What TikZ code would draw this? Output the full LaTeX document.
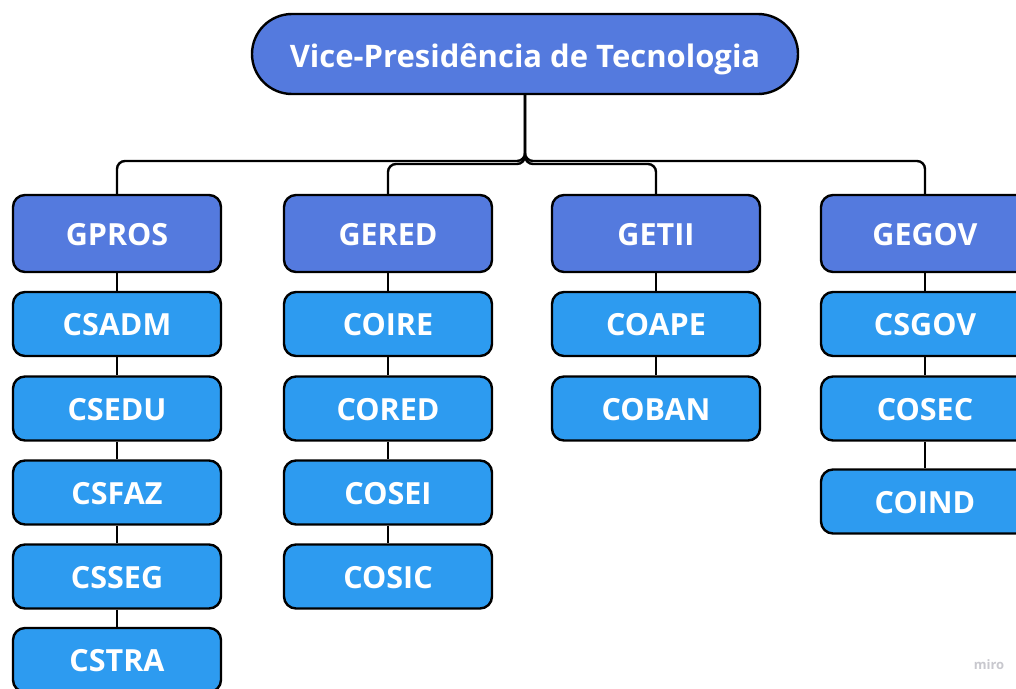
\documentclass[tikz,border=0pt]{standalone}
\usepackage{fontspec}
\setmainfont{Open Sans}
\definecolor{headblue}{RGB}{84,122,222}
\definecolor{childblue}{RGB}{45,155,240}
\definecolor{miroGray}{RGB}{200,200,206}
\begin{document}
\begin{tikzpicture}[x=1pt,y=-1pt,
  boxbase/.style={draw=black, line width=2.4pt, text=white, font=\fontsize{30.5}{32}\selectfont\bfseries, inner sep=0pt, text height=23pt, text depth=0pt},
  headbox/.style={boxbase, fill=headblue, rounded corners=12pt, minimum width=208pt, minimum height=77pt},
  childbox/.style={boxbase, fill=childblue, rounded corners=12pt, minimum width=208pt, minimum height=64pt},
  topbox/.style={boxbase, fill=headblue, rounded corners=40pt, minimum width=546pt, minimum height=80pt, font=\fontsize{31}{33}\selectfont\bfseries, text height=26pt},
  conn/.style={draw=black, line width=2.4pt, rounded corners=8pt},
  link/.style={draw=black, line width=2.4pt}
]
\clip (0,0) rectangle (1016,688);
\fill[white] (0,0) rectangle (1016,688);

\node[topbox] (vp) at (525,54) {Vice-Presidência de Tecnologia};

\node[headbox] (gpros) at (117,233.5) {GPROS};
\node[headbox] (gered) at (388,233.5) {GERED};
\node[headbox] (getii) at (656,233.5) {GETII};
\node[headbox] (gegov) at (925,233.5) {GEGOV};

\draw[conn] (vp.south) -- (525,161) -| (gpros.north);
\draw[conn] (vp.south) -- (525,161) -| (gegov.north);
\draw[conn] (vp.south) -- (525,164) -| (gered.north);
\draw[conn] (vp.south) -- (525,164) -| (getii.north);

% column 1
\node[childbox] (csadm) at (117,324) {CSADM};
\node[childbox] (csedu) at (117,408.5) {CSEDU};
\node[childbox] (csfaz) at (117,492.5) {CSFAZ};
\node[childbox] (csseg) at (117,576.5) {CSSEG};
\node[childbox] (cstra) at (117,660) {CSTRA};
\draw[link] (gpros.south) -- (csadm.north);
\draw[link] (csadm.south) -- (csedu.north);
\draw[link] (csedu.south) -- (csfaz.north);
\draw[link] (csfaz.south) -- (csseg.north);
\draw[link] (csseg.south) -- (cstra.north);

% column 2
\node[childbox] (coire) at (388,324) {COIRE};
\node[childbox] (cored) at (388,408.5) {CORED};
\node[childbox] (cosei) at (388,492.5) {COSEI};
\node[childbox] (cosic) at (388,576.5) {COSIC};
\draw[link] (gered.south) -- (coire.north);
\draw[link] (coire.south) -- (cored.north);
\draw[link] (cored.south) -- (cosei.north);
\draw[link] (cosei.south) -- (cosic.north);

% column 3
\node[childbox] (coape) at (656,324) {COAPE};
\node[childbox] (coban) at (656,408.5) {COBAN};
\draw[link] (getii.south) -- (coape.north);
\draw[link] (coape.south) -- (coban.north);

% column 4
\node[childbox] (csgov) at (925,324) {CSGOV};
\node[childbox] (cosec) at (925,408.5) {COSEC};
\node[childbox] (coind) at (925,501.5) {COIND};
\draw[link] (gegov.south) -- (csgov.north);
\draw[link] (csgov.south) -- (cosec.north);
\draw[link] (cosec.south) -- (coind.north);

\node[text=miroGray, font=\fontsize{13}{14}\selectfont\bfseries] (miro) at (989,665) {miro};
\end{tikzpicture}
\end{document}
